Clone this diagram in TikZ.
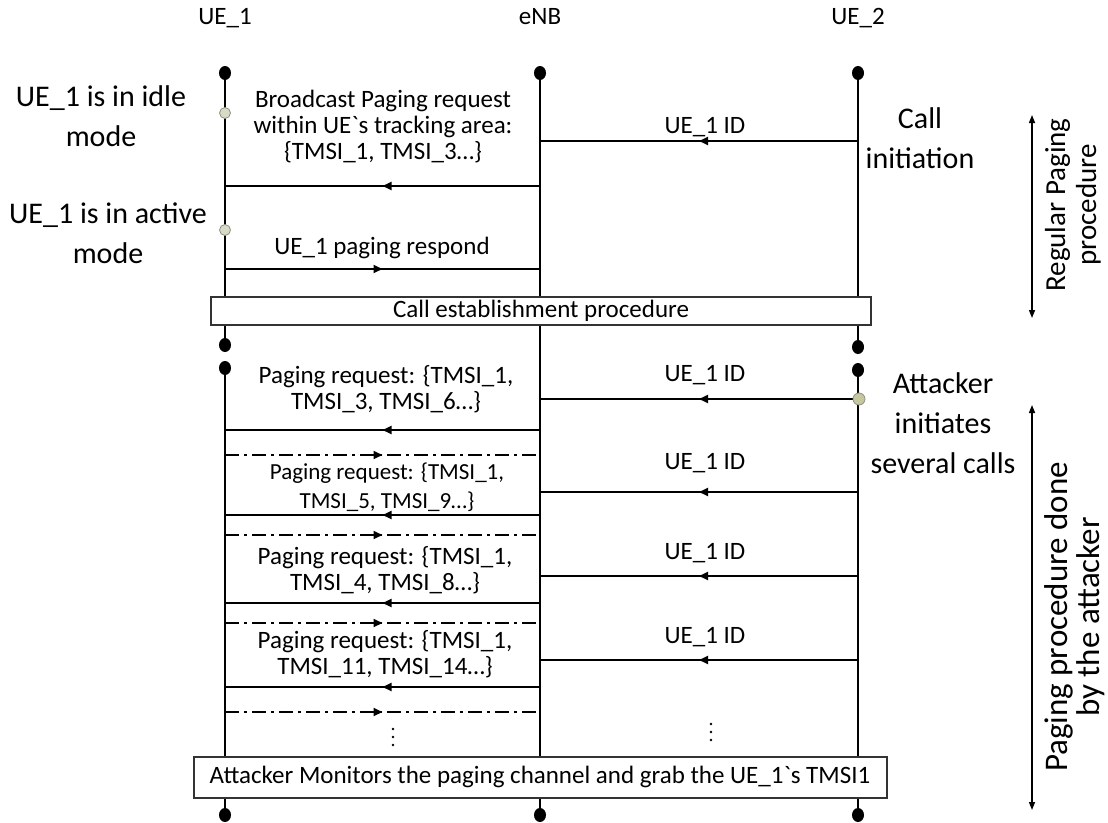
\documentclass[tikz,border=0pt]{standalone}
\usepackage{fontspec}
\setmainfont{Carlito}[Ligatures=TeXOff]
\usetikzlibrary{arrows.meta,decorations.markings}

\definecolor{stategray}{HTML}{D6DAC6}
\definecolor{stateedge}{HTML}{8E9080}

\tikzset{
  lifeline/.style={line width=2pt, black},
  enddot/.style={fill=black},
  statedot/.style={draw=stateedge, fill=stategray, line width=0.8pt},
  msg/.style={line width=1.8pt, postaction={decorate},
    decoration={markings, mark=at position 0.5 with {\arrow{Triangle[length=9pt,width=8pt]}}}},
  dashmsg/.style={msg, dash pattern=on 14pt off 5pt on 3pt off 5pt},
  msglabel/.style={font=\fontsize{25}{26}\selectfont, align=center, inner sep=0pt},
  smalllabel/.style={font=\fontsize{23}{29}\selectfont, align=center, inner sep=0pt},
  sidelabel/.style={font=\fontsize{30}{40}\selectfont, align=center, inner sep=0pt},
  headlabel/.style={font=\fontsize{25}{25}\selectfont, inner sep=0pt, anchor=base},
  procbox/.style={draw=black!80, line width=1.3pt, fill=white},
  spanarrow/.style={line width=1.4pt, {Triangle[length=8pt,width=6pt]}-{Triangle[length=8pt,width=6pt]}},
  spanlabel/.style={align=center, rotate=90, inner sep=0pt}
}

\begin{document}
\begin{tikzpicture}[x=1pt,y=-1pt]
\useasboundingbox (0,0) rectangle (1108,822);

% participants
\node[headlabel] (hUEa) at (225,24) {UE\_1};
\node[headlabel] (hENB) at (540,24) {eNB};
\node[headlabel] (hUEb) at (858,24) {UE\_2};

% lifeline anchor points
\coordinate (a0) at (225,73);  \coordinate (a1) at (225,345);
\coordinate (a2) at (225,368); \coordinate (a3) at (225,815);
\coordinate (e0) at (540,73);  \coordinate (e3) at (540,815);
\coordinate (b0) at (858,73);  \coordinate (b1) at (858,347);
\coordinate (b2) at (858,370); \coordinate (b3) at (858,815);

\draw[lifeline] (a0) -- (a1);
\draw[lifeline] (a2) -- (a3);
\draw[lifeline] (e0) -- (e3);
\draw[lifeline] (b0) -- (b1);
\draw[lifeline] (b2) -- (b3);

\foreach \p in {a0,a1,a2,a3,e0,e3,b0,b1,b2,b3}
  \fill[enddot] (\p) ellipse (6pt and 7pt);

% ---------- regular paging ----------
\coordinate (m1s) at (858,141); \coordinate (m1e) at (540,141);
\draw[msg] (m1s) -- (m1e);
\node[msglabel] (l1) at (705,127) {UE\_1 ID};

\coordinate (m2s) at (540,186); \coordinate (m2e) at (225,186);
\draw[msg] (m2s) -- (m2e);
\node[msglabel] (l2) at (383,127) {Broadcast Paging request\\within UE`s tracking area:\\\{TMSI\_1, TMSI\_3…\}};

\coordinate (m3s) at (225,269); \coordinate (m3e) at (540,269);
\draw[msg] (m3s) -- (m3e);
\node[msglabel] (l3) at (382,248) {UE\_1 paging respond};

\draw[statedot] (225,113) circle (5.5pt);
\draw[statedot] (225,230) circle (5.5pt);

\node[sidelabel] (sIdle) at (101,116) {UE\_1 is in idle\\mode};
\node[sidelabel] (sAct) at (108,233) {UE\_1 is in active\\mode};
\node[sidelabel] (sCall) at (920,138) {Call\\initiation};

\draw[procbox] (211,297) rectangle (871,325);
\node[msglabel] (pCall) at (541,311) {Call establishment procedure};

% ---------- paging done by the attacker ----------
\coordinate (n1s) at (858,399); \coordinate (n1e) at (540,399);
\draw[msg] (n1s) -- (n1e);
\node[msglabel] (k1) at (705,375) {UE\_1 ID};
\draw[statedot, fill=stategray!80!olive, draw=stateedge] (859,399) circle (6pt);

\coordinate (p1s) at (540,430); \coordinate (p1e) at (225,430);
\draw[msg] (p1s) -- (p1e);
\node[msglabel] (q1) at (386,389) {Paging request: \{TMSI\_1,\\TMSI\_3, TMSI\_6…\}};
\coordinate (r1s) at (225,455); \coordinate (r1e) at (540,455);
\draw[dashmsg] (r1s) -- (r1e);

\coordinate (n2s) at (858,492); \coordinate (n2e) at (540,492);
\draw[msg] (n2s) -- (n2e);
\node[msglabel] (k2) at (705,463) {UE\_1 ID};

\coordinate (p2s) at (540,515); \coordinate (p2e) at (225,515);
\draw[msg] (p2s) -- (p2e);
\node[smalllabel] (q2) at (387,487) {Paging request: \{TMSI\_1,\\TMSI\_5, TMSI\_9…\}};
\coordinate (r2s) at (225,535); \coordinate (r2e) at (540,535);
\draw[dashmsg] (r2s) -- (r2e);

\coordinate (n3s) at (858,576); \coordinate (n3e) at (540,576);
\draw[msg] (n3s) -- (n3e);
\node[msglabel] (k3) at (705,553) {UE\_1 ID};

\coordinate (p3s) at (540,603); \coordinate (p3e) at (225,603);
\draw[msg] (p3s) -- (p3e);
\node[msglabel] (q3) at (385,570) {Paging request: \{TMSI\_1,\\TMSI\_4, TMSI\_8…\}};
\coordinate (r3s) at (225,623); \coordinate (r3e) at (540,623);
\draw[dashmsg] (r3s) -- (r3e);

\coordinate (n4s) at (858,660); \coordinate (n4e) at (540,660);
\draw[msg] (n4s) -- (n4e);
\node[msglabel] (k4) at (705,637) {UE\_1 ID};

\coordinate (p4s) at (540,687); \coordinate (p4e) at (225,687);
\draw[msg] (p4s) -- (p4e);
\node[msglabel] (q4) at (385,654) {Paging request: \{TMSI\_1,\\TMSI\_11, TMSI\_14…\}};
\coordinate (r4s) at (225,712); \coordinate (r4e) at (540,712);
\draw[dashmsg] (r4s) -- (r4e);

% continuation marks
\foreach \yy in {729,737,745} \fill (393,\yy) circle (1.4pt);
\foreach \yy in {724,732,740} \fill (711,\yy) circle (1.4pt);

\node[sidelabel] (sAtt) at (943,423) {Attacker\\initiates\\several calls};

\draw[procbox] (194,757) rectangle (887,798);
\node[msglabel] (pMon) at (540,777) {Attacker Monitors the paging channel and grab the UE\_1`s TMSI1};

% phase spans
\coordinate (s1t) at (1032,115); \coordinate (s1b) at (1032,318);
\draw[spanarrow] (s1t) -- (s1b);
\node[spanlabel, font=\fontsize{29}{31}\selectfont] (t1) at (1073,205) {Regular Paging\\procedure};

\coordinate (s2t) at (1032,405); \coordinate (s2b) at (1032,810);
\draw[spanarrow] (s2t) -- (s2b);
\node[spanlabel, font=\fontsize{33}{32}\selectfont] (t2) at (1075,617) {Paging procedure done\\by the attacker};
\end{tikzpicture}
\end{document}
